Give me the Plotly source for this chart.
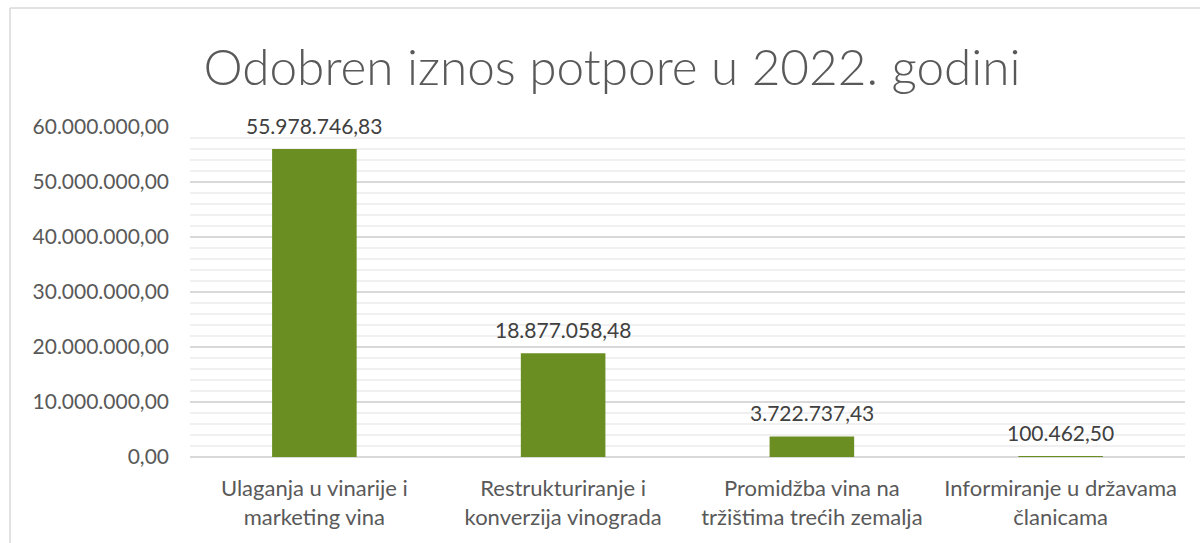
import plotly.graph_objects as go

categories = [
    "Ulaganja u vinarije i<br>marketing vina",
    "Restrukturiranje i<br>konverzija vinograda",
    "Promidžba vina na<br>tržištima trećih zemalja",
    "Informiranje u državama<br>članicama",
]
values = [55978746.83, 18877058.48, 3722737.43, 100462.50]
y_tickvals = [0, 10e6, 20e6, 30e6, 40e6, 50e6, 60e6]
y_ticktext = ["0,00", "10.000.000,00", "20.000.000,00", "30.000.000,00",
              "40.000.000,00", "50.000.000,00", "60.000.000,00"]
title_text = "Odobren iznos potpore u 2022. godini"


def fmt(v):
    s = f"{v:,.2f}"
    return s.replace(",", "X").replace(".", ",").replace("X", ".")


FONT = "Lato"
fig = go.Figure()
fig.add_trace(go.Bar(
    x=categories, y=values,
    marker=dict(color="#6B8E23", line=dict(width=0)),
    hoverinfo="skip",
))

for c, v in zip(categories, values):
    fig.add_annotation(
        x=c, y=v, text=fmt(v), showarrow=False,
        yanchor="middle", yshift=24,
        font=dict(family=FONT, size=21, color="#404040"),
    )

W, H = 1200, 543
L, R, T, B = 190, 15, 127, 86
pw, ph = W - L - R, H - T - B

def px(x):
    return (x - L) / pw

def py(y):
    return 1 - (y - T) / ph

border = dict(color="#d9d9d9", width=1.5)
fig.add_shape(type="line", xref="paper", yref="paper",
              x0=px(10), x1=px(10), y0=py(560), y1=py(8), line=border)
fig.add_shape(type="line", xref="paper", yref="paper",
              x0=px(10), x1=px(1210), y0=py(8), y1=py(8), line=border)

fig.update_layout(
    width=W, height=H,
    margin=dict(l=L, r=R, t=T, b=B),
    paper_bgcolor="white", plot_bgcolor="white",
    bargap=0.66,
    showlegend=False,
    title=dict(
        text=title_text, xref="container", yref="container",
        x=0.51, xanchor="center", y=1 - 68 / H, yanchor="middle",
        font=dict(family=FONT, size=49.5, color="#595959", weight=300),
    ),
    font=dict(family=FONT, color="#595959"),
)
fig.update_yaxes(
    range=[0, 60e6], tickvals=y_tickvals, ticktext=y_ticktext,
    tickfont=dict(family=FONT, size=21, color="#595959"),
    showgrid=True, gridcolor="#d9d9d9", gridwidth=1.5,
    zeroline=True, zerolinecolor="#d9d9d9", zerolinewidth=1.5,
    minor=dict(dtick=2e6, showgrid=True, gridcolor="#f0f0f0", gridwidth=1.5),
    ticklabelstandoff=20, fixedrange=True,
)
fig.update_xaxes(
    tickfont=dict(family=FONT, size=22, color="#595959"),
    showline=False, ticklabelstandoff=16, fixedrange=True,
)

fig.write_html(
    "out.html",
    config={"displayModeBar": False},
    post_script="document.body.style.margin='0';document.body.style.overflow='hidden';",
)
